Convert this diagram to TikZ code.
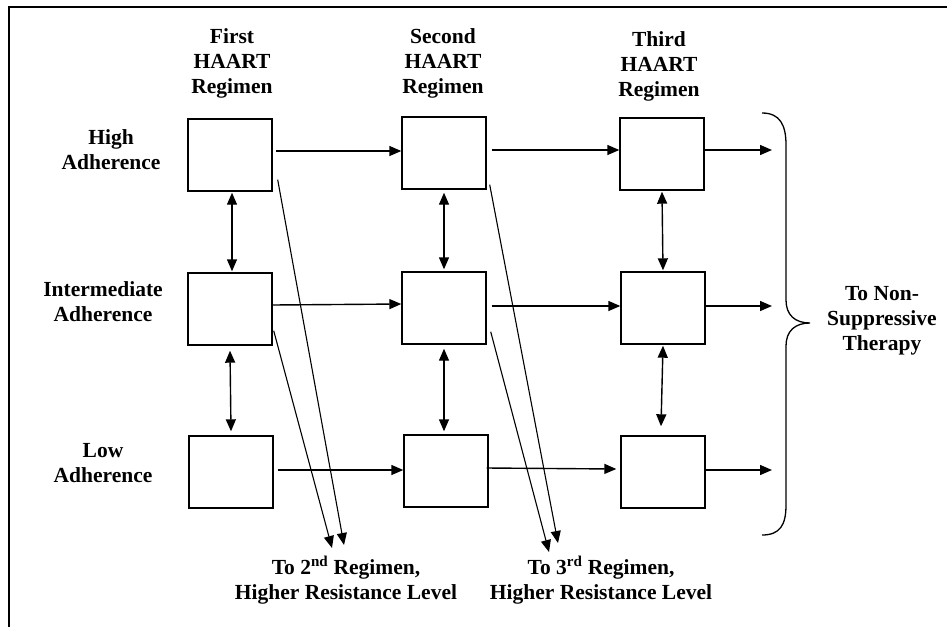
\documentclass[tikz,border=0pt]{standalone}
\usepackage{fontspec}
\setmainfont{Liberation Serif}
\usetikzlibrary{arrows.meta}
\begin{document}
\begin{tikzpicture}[x=1pt,y=-1pt,
    lbl/.style={align=center,font=\fontsize{21.5}{25}\selectfont\bfseries},
    box/.style={draw,line width=1.4pt,minimum width=84pt,minimum height=72pt,inner sep=0pt},
    arr/.style={line width=1.4pt,-{Triangle[length=12pt,width=10pt]}},
    dbl/.style={line width=1.4pt,{Triangle[length=12pt,width=10pt]}-{Triangle[length=12pt,width=10pt]}}]
  \useasboundingbox (0,0) rectangle (947,627);
  % frame
  \draw[line width=1.4pt] (9,627) -- (9,7) -- (947,7);

  % headings
  \node[lbl] (h1) at (232,63) {First\\HAART\\Regimen};
  \node[lbl] (h2) at (443,63) {Second\\HAART\\Regimen};
  \node[lbl] (h3) at (659,66) {Third\\HAART\\Regimen};
  \node[lbl] (r1) at (111,150) {High\\Adherence};
  \node[lbl] (r2) at (103,302) {Intermediate\\Adherence};
  \node[lbl] (r3) at (103,463) {Low\\Adherence};

  % boxes
  \node[box] (b11) at (230,155) {};
  \node[box] (b21) at (230,309) {};
  \node[box] (b31) at (231,472) {};
  \node[box] (b12) at (444,153) {};
  \node[box] (b22) at (444,308) {};
  \node[box] (b32) at (446,471) {};
  \node[box] (b13) at (662,154) {};
  \node[box] (b23) at (663,308) {};
  \node[box] (b33) at (663,472) {};

  % free ends
  \coordinate (e1) at (772,150);
  \coordinate (e2) at (772,306);
  \coordinate (e3) at (772,470);
  \coordinate (d1a) at (344,545);
  \coordinate (d1b) at (332,548);
  \coordinate (d2a) at (558,543);
  \coordinate (d2b) at (549,552);

  % across
  \draw[arr] ([xshift=3pt,yshift=4pt]b11.east) -- ([yshift=2pt]b12.west);
  \draw[arr] ([xshift=5pt,yshift=3pt]b12.east) -- ([yshift=4pt]b13.west);
  \draw[arr] (b13.east |- e1) -- (e1);
  \draw[arr] ([yshift=4pt]b21.east) -- ([yshift=4pt]b22.west);
  \draw[arr] ([xshift=5pt,yshift=2pt]b22.east) -- ([yshift=2pt]b23.west);
  \draw[arr] (b23.east |- e2) -- (e2);
  \draw[arr] ([xshift=4pt,yshift=2pt]b31.east) -- ([yshift=1pt]b32.west);
  \draw[arr] ([xshift=-2pt,yshift=3pt]b32.east) -- ([xshift=-4pt,yshift=3pt]b33.west);
  \draw[arr] (b33.east |- e3) -- (e3);

  % up and down
  \draw[dbl] ([xshift=2pt,yshift=-1pt]b11.south) -- ([xshift=2pt,yshift=1pt]b21.north);
  \draw[dbl] ([yshift=-5pt]b21.south) -- ([yshift=4pt]b31.north);
  \draw[dbl] ([yshift=-3pt]b12.south) -- ([yshift=2pt]b22.north);
  \draw[dbl] ([yshift=-4pt]b22.south) -- ([xshift=-2pt,yshift=3pt]b32.north);
  \draw[dbl] ([yshift=-1pt]b13.south) -- ([yshift=1pt]b23.north);
  \draw[dbl] ([yshift=-1pt]b23.south) -- ([xshift=-2pt,yshift=9pt]b33.north);

  % down to next regimen
  \draw[arr,line width=1.1pt] ([xshift=5pt,yshift=12pt]b11.south east) -- (d1a);
  \draw[arr,line width=1.1pt] ([xshift=1pt,yshift=15pt]b21.south east) -- (d1b);
  \draw[arr,line width=1.1pt] ([xshift=3pt,yshift=5pt]b12.south east) -- (d2a);
  \draw[arr,line width=1.1pt] ([xshift=4pt,yshift=13pt]b22.south east) -- (d2b);

  \node[lbl] (to2) at (346,580) {To 2\textsuperscript{nd} Regimen,\\Higher Resistance Level};
  \node[lbl] (to3) at (601,580) {To 3\textsuperscript{rd} Regimen,\\Higher Resistance Level};

  % brace
  \draw[line width=1.3pt] (762,113) .. controls (780,113) and (786,125) .. (786,145) -- (786,300)
    .. controls (786,315) and (795,323) .. (810,323)
    .. controls (795,323) and (786,331) .. (786,346) -- (786,505)
    .. controls (786,525) and (780,535) .. (762,535);
  \node[lbl] (nst) at (882,321) {To Non-\\Suppressive\\Therapy};
\end{tikzpicture}
\end{document}
